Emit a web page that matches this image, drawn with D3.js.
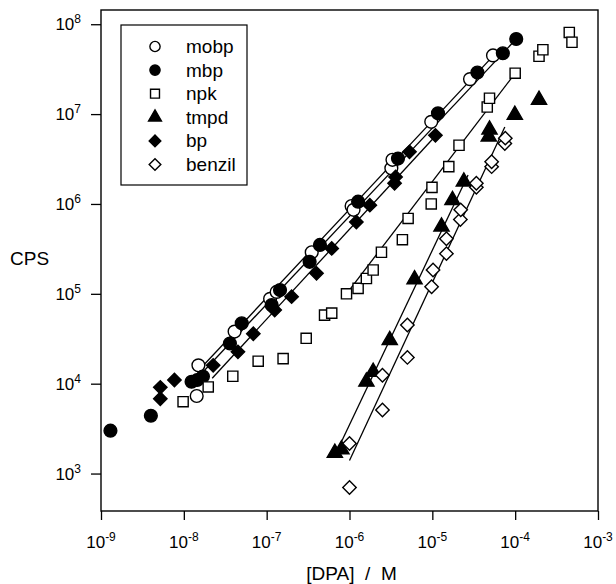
<!DOCTYPE html>
<meta charset="utf-8">
<style>
  body { margin: 0; background: #fff; }
  svg { display: block; font-family: "Liberation Sans", Arial, Helvetica, sans-serif; }
</style>
<body></body>
<script src="https://cdn.jsdelivr.net/npm/d3@7/dist/d3.min.js"></script>
<script>
  // values: [DPA] in M, counts per second
  const mobpX = [1.43e-8, 1.5e-8, 4.1e-8, 1.1e-7, 1.32e-7, 3.5e-7, 1.06e-6, 1.12e-6, 3.2e-6, 3.3e-6, 9.7e-6, 2.85e-5, 5.4e-5]
  const mobpY = [7.3e3, 1.6e4, 3.8e4, 8.8e4, 1.05e5, 2.9e5, 9.5e5, 8.6e5, 2.5e6, 3.1e6, 8.2e6, 2.45e7, 4.5e7]

  const mbpX = [1.3e-9, 4.0e-9, 1.24e-8, 1.45e-8, 1.7e-8, 3.6e-8, 5.0e-8, 1.15e-7, 1.45e-7, 3.3e-7, 4.4e-7, 1.27e-6, 3.85e-6, 1.17e-5, 3.5e-5, 7.1e-5, 1.03e-4]
  const mbpY = [3.0e3, 4.4e3, 1.05e4, 1.1e4, 1.2e4, 2.8e4, 4.7e4, 7.5e4, 1.1e5, 2.27e5, 3.5e5, 1.06e6, 3.2e6, 1.02e7, 2.9e7, 4.75e7, 6.85e7]

  const npkX = [9.8e-9, 1.97e-8, 3.9e-8, 7.9e-8, 1.58e-7, 3.0e-7, 5.0e-7, 6.1e-7, 9.2e-7, 1.27e-6, 1.6e-6, 1.93e-6, 2.43e-6, 4.35e-6, 5.1e-6, 9.7e-6, 9.9e-6, 1.58e-5, 2.1e-5, 4.6e-5, 4.9e-5, 1.0e-4, 1.94e-4, 2.16e-4, 4.5e-4, 4.85e-4]
  const npkY = [6.3e3, 9.2e3, 1.21e4, 1.78e4, 1.9e4, 3.2e4, 5.8e4, 6.1e4, 1.0e5, 1.15e5, 1.48e5, 1.84e5, 2.9e5, 4.0e5, 6.9e5, 1.0e6, 1.53e6, 2.6e6, 4.5e6, 1.2e7, 1.5e7, 2.85e7, 4.4e7, 5.2e7, 8.1e7, 6.3e7]

  const tmpdX = [6.65e-7, 8.0e-7, 1.6e-6, 1.93e-6, 3.06e-6, 6.1e-6, 1.29e-5, 1.75e-5, 2.4e-5, 4.8e-5, 4.9e-5, 9.9e-5, 1.94e-4]
  const tmpdY = [1.7e3, 1.85e3, 1.05e4, 1.35e4, 3.05e4, 1.45e5, 5.6e5, 1.1e6, 1.77e6, 5.6e6, 6.7e6, 9.8e6, 1.44e7]

  const bpX = [5.2e-9, 5.2e-9, 7.7e-9, 2.26e-8, 4.5e-8, 6.9e-8, 1.25e-7, 2.0e-7, 4.0e-7, 6.1e-7, 1.21e-6, 1.76e-6, 3.5e-6, 3.6e-6, 5.3e-6, 1.09e-5]
  const bpY = [9.1e3, 6.8e3, 1.1e4, 1.6e4, 2.26e4, 3.6e4, 6.6e4, 9.3e4, 1.69e5, 3.2e5, 6.3e5, 9.7e5, 1.7e6, 2.0e6, 3.8e6, 5.8e6]

  const benzilX = [1.0e-6, 1.0e-6, 2.5e-6, 2.5e-6, 5.0e-6, 5.0e-6, 9.8e-6, 1.02e-5, 1.48e-5, 1.48e-5, 2.18e-5, 2.2e-5, 3.4e-5, 3.4e-5, 5.2e-5, 5.2e-5, 7.5e-5, 7.6e-5]
  const benzilY = [7.0e2, 2.16e3, 5.1e3, 1.24e4, 1.96e4, 4.5e4, 1.2e5, 1.84e5, 2.8e5, 4.1e5, 6.7e5, 8.6e5, 1.53e6, 1.7e6, 2.6e6, 2.95e6, 4.7e6, 5.4e6]

  // fitted lines: [x0, y0, x1, y1]
  const fitLines = {
    mobp: [1.45e-8, 1.35e4, 5.5e-5, 4.5e7],
    mbp: [1.7e-8, 1.35e4, 1.03e-4, 6.85e7],
    npk: [9.2e-7, 1.0e5, 1.0e-4, 2.85e7],
    tmpd: [6.8e-7, 1.65e3, 2.7e-5, 2.1e6],
    bp: [2.2e-8, 1.15e4, 1.09e-5, 5.7e6],
    benzil: [1.0e-6, 1.4e3, 7.5e-5, 7.2e6]
  }

  const seriesNames = ["mobp", "mbp", "npk", "tmpd", "bp", "benzil"]
  const xTickExp = [-9, -8, -7, -6, -5, -4, -3]
  const yTickExp = [3, 4, 5, 6, 7, 8]

  const series = [
    { name: "mobp", xs: mobpX, ys: mobpY, shape: "circle", filled: false },
    { name: "mbp", xs: mbpX, ys: mbpY, shape: "circle", filled: true },
    { name: "npk", xs: npkX, ys: npkY, shape: "square", filled: false },
    { name: "tmpd", xs: tmpdX, ys: tmpdY, shape: "triangle", filled: true },
    { name: "bp", xs: bpX, ys: bpY, shape: "diamond", filled: true },
    { name: "benzil", xs: benzilX, ys: benzilY, shape: "diamond", filled: false }
  ]

  const width = 616
  const height = 584
  const plot = { left: 101, right: 598, top: 10, bottom: 511 }

  const x = d3.scaleLog()
    .domain([1e-9, 1e-3])
    .range([plot.left, plot.right])

  const y = d3.scaleLog()
    .domain([383, 1.44e8])
    .range([plot.bottom, plot.top])

  const svg = d3.select("body").append("svg")
    .attr("width", width)
    .attr("height", height)

  // marker sizes (area) for plot and legend
  const markerArea = { circle: 128, square: 104, triangle: 100, diamond: 90 }
  const legendArea = { circle: 82, square: 80, triangle: 72, diamond: 68 }

  function symbolPath(shape, area) {
    if (shape === "circle") return d3.symbol(d3.symbolCircle, area)()
    if (shape === "triangle") return d3.symbol(d3.symbolTriangle, area)()
    return d3.symbol(d3.symbolSquare, area)()
  }

  function drawMarker(sel, s, area) {
    sel.append("path")
      .attr("d", symbolPath(s.shape, area[s.shape]))
      .attr("fill", s.filled ? "#000" : "#fff")
      .attr("stroke", "#000")
      .attr("stroke-width", 1.4)
  }

  // fitted lines under the markers
  svg.append("g")
    .selectAll("line")
    .data(seriesNames.map(n => fitLines[n]))
    .enter()
    .append("line")
    .attr("x1", d => x(d[0]))
    .attr("y1", d => y(d[1]))
    .attr("x2", d => x(d[2]))
    .attr("y2", d => y(d[3]))
    .attr("stroke", "#000")
    .attr("stroke-width", 1.3)

  // points
  series.forEach(s => {
    const pts = s.xs.map((v, i) => [v, s.ys[i]])
    const g = svg.append("g").attr("class", "series " + s.name)
    g.selectAll("g")
      .data(pts)
      .enter()
      .append("g")
      .attr("transform", d => `translate(${x(d[0])},${y(d[1])})` + (s.shape === "diamond" ? " rotate(45)" : ""))
      .each(function() { drawMarker(d3.select(this), s, markerArea) })
  })

  // frame
  svg.append("rect")
    .attr("x", plot.left)
    .attr("y", plot.top)
    .attr("width", plot.right - plot.left)
    .attr("height", plot.bottom - plot.top)
    .attr("fill", "none")
    .attr("stroke", "#000")
    .attr("stroke-width", 1.4)

  const xAxis = d3.axisBottom(x)
    .tickValues(xTickExp.map(e => Math.pow(10, e)))
    .tickSize(9)
    .tickFormat("")

  const yAxis = d3.axisLeft(y)
    .tickValues(yTickExp.map(e => Math.pow(10, e)))
    .tickSize(10)
    .tickFormat("")

  const gx = svg.append("g")
    .attr("transform", `translate(0,${plot.bottom})`)
    .call(xAxis)
  gx.select(".domain").remove()
  gx.selectAll("line").attr("stroke-width", 1.3)

  const gy = svg.append("g")
    .attr("transform", `translate(${plot.left},0)`)
    .call(yAxis)
  gy.select(".domain").remove()
  gy.selectAll("line").attr("stroke-width", 1.3)

  // tick labels as 10 with superscript exponent
  svg.append("g")
    .selectAll("text")
    .data(xTickExp)
    .enter()
    .append("text")
    .attr("x", d => x(Math.pow(10, d)))
    .attr("y", 548)
    .attr("text-anchor", "middle")
    .attr("font-size", 17)
    .each(function(d) {
      const t = d3.select(this)
      t.append("tspan").text("10")
      t.append("tspan").attr("dy", -7).attr("font-size", 12).text(String(d))
    })

  svg.append("g")
    .selectAll("text")
    .data(yTickExp)
    .enter()
    .append("text")
    .attr("x", 81)
    .attr("y", d => y(Math.pow(10, d)) + 6)
    .attr("text-anchor", "end")
    .attr("font-size", 17)
    .each(function(d) {
      const t = d3.select(this)
      t.append("tspan").text("10")
      t.append("tspan").attr("dy", -7).attr("font-size", 12).text(String(d))
    })

  // axis titles
  svg.append("text")
    .attr("x", 10)
    .attr("y", 265)
    .attr("font-size", 19)
    .text("CPS")

  svg.append("text")
    .attr("x", (plot.left + plot.right) / 2 + 2)
    .attr("y", 580)
    .attr("text-anchor", "middle")
    .attr("font-size", 19)
    .style("white-space", "pre")
    .text("[DPA]  /  M")

  // legend
  const legend = svg.append("g")
  legend.append("rect")
    .attr("x", 121)
    .attr("y", 25)
    .attr("width", 126)
    .attr("height", 160)
    .attr("fill", "#fff")
    .attr("stroke", "#000")
    .attr("stroke-width", 1.2)

  const rows = legend.selectAll("g.row")
    .data(series)
    .enter()
    .append("g")
    .attr("class", "row")
    .attr("transform", (d, i) => `translate(0,${46.5 + i * 23.6})`)

  rows.append("g")
    .attr("transform", d => "translate(155,0)" + (d.shape === "diamond" ? " rotate(45)" : ""))
    .each(function(d) { drawMarker(d3.select(this), d, legendArea) })

  rows.append("text")
    .attr("x", 186)
    .attr("y", 6.5)
    .attr("font-size", 19)
    .text(d => d.name)
</script>
